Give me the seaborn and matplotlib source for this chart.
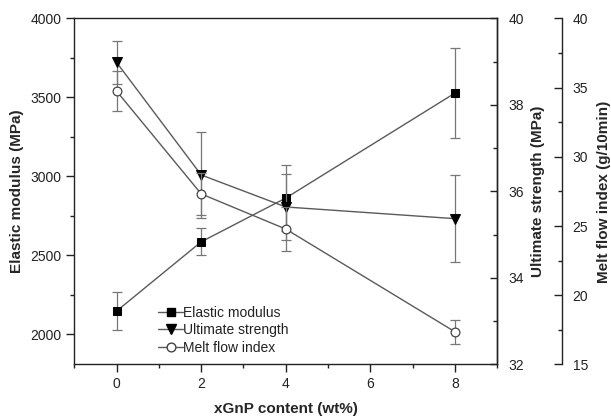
import matplotlib
matplotlib.use("Agg")
import matplotlib.pyplot as plt
import seaborn as sns
import pandas as pd
from matplotlib.ticker import MultipleLocator
from matplotlib.lines import Line2D

# ---- data ----
xgnp = [0, 2, 4, 8]
modulus = [2148, 2586, 2863, 3527]
modulus_err = [118, 85, 207, 282]
strength = [38.98, 36.38, 35.64, 35.37]
strength_err = [0.5, 1.0, 0.77, 1.0]
mfi = [34.74, 27.32, 24.78, 17.36]
mfi_err = [1.42, 1.5, 1.6, 0.86]
x_ticks = [0, 2, 4, 6, 8]

sns.set_style("ticks")
plt.rcParams["font.family"] = ["Liberation Sans", "DejaVu Sans"]
plt.rcParams["axes.linewidth"] = 1.0
plt.rcParams["text.color"] = "#222222"
plt.rcParams["xtick.color"] = "#222222"
plt.rcParams["ytick.color"] = "#222222"

df = pd.DataFrame({"x": xgnp, "mod": modulus, "str": strength, "mfi": mfi})

fig = plt.figure(figsize=(6.11, 4.16), dpi=100)
ax = fig.add_axes([0.1216, 0.1238, 0.8139 - 0.1216, 0.956 - 0.1238])
ax2 = ax.twinx()
ax3 = ax.twinx()

line_c = "#5a5a5a"
err_c = "#777777"
tfs = 10
lfs = 11

# error bars
for a, y, e in ((ax, modulus, modulus_err), (ax2, strength, strength_err), (ax3, mfi, mfi_err)):
    a.errorbar(xgnp, y, yerr=e, fmt="none", ecolor=err_c, elinewidth=0.9,
               capsize=3.5, capthick=0.9, zorder=2)

sns.lineplot(data=df, x="x", y="mod", ax=ax, color=line_c, lw=1.0, marker="s", markersize=5.5,
             markerfacecolor="black", markeredgecolor="black", zorder=3)
sns.lineplot(data=df, x="x", y="str", ax=ax2, color=line_c, lw=1.0, marker="v", markersize=7,
             markerfacecolor="black", markeredgecolor="black", zorder=3)
sns.lineplot(data=df, x="x", y="mfi", ax=ax3, color=line_c, lw=1.0, marker="o", markersize=6.3,
             markerfacecolor="white", markeredgecolor="#444444", markeredgewidth=0.9, zorder=3)

# left axis
ax.set_xlim(-1, 9)
ax.set_ylim(1810, 4000)
ax.set_xticks(x_ticks)
ax.xaxis.set_minor_locator(MultipleLocator(1))
ax.set_yticks([2000, 2500, 3000, 3500, 4000])
ax.yaxis.set_minor_locator(MultipleLocator(250))
ax.tick_params(axis="both", which="major", direction="out", length=6, width=1, labelsize=tfs, pad=3)
ax.tick_params(axis="both", which="minor", direction="out", length=3, width=1)
ax.set_xlabel("xGnP content (wt%)", fontsize=lfs, fontweight="bold", labelpad=8)
ax.set_ylabel("Elastic modulus (MPa)", fontsize=lfs, fontweight="bold", labelpad=5)
for s in ["top", "right", "left", "bottom"]:
    ax.spines[s].set_visible(True)
    ax.spines[s].set_color("#222222")

# strength axis
ax2.set_ylim(32, 40)
ax2.yaxis.set_major_locator(MultipleLocator(2))
ax2.yaxis.set_minor_locator(MultipleLocator(1))
ax2.tick_params(axis="y", which="major", direction="in", length=5, width=1, labelsize=tfs, pad=8)
ax2.tick_params(axis="y", which="minor", direction="in", length=3, width=1)
ax2.set_ylabel("Ultimate strength (MPa)", fontsize=lfs, fontweight="bold", labelpad=5)
for s in ["top", "left", "bottom"]:
    ax2.spines[s].set_visible(False)
ax2.spines["right"].set_visible(True)
ax2.spines["right"].set_color("#222222")

# melt flow axis
ax3.spines["right"].set_position(("axes", 1.152))
ax3.set_ylim(15, 40)
ax3.yaxis.set_major_locator(MultipleLocator(5))
ax3.yaxis.set_minor_locator(MultipleLocator(2.5))
ax3.tick_params(axis="y", which="major", direction="in", length=6, width=1, labelsize=tfs, pad=8)
ax3.tick_params(axis="y", which="minor", direction="in", length=3, width=1)
ax3.set_ylabel("Melt flow index (g/10min)", fontsize=lfs, fontweight="bold", labelpad=6)
for s in ["top", "left", "bottom"]:
    ax3.spines[s].set_visible(False)
ax3.spines["right"].set_visible(True)
ax3.spines["right"].set_color("#222222")

for a in (ax, ax2, ax3):
    if a.get_legend() is not None:
        a.get_legend().remove()

handles = [
    Line2D([], [], color=line_c, lw=1.0, marker="s", markersize=5.5, markerfacecolor="black", markeredgecolor="black"),
    Line2D([], [], color=line_c, lw=1.0, marker="v", markersize=7, markerfacecolor="black", markeredgecolor="black"),
    Line2D([], [], color=line_c, lw=1.0, marker="o", markersize=6.3, markerfacecolor="white", markeredgecolor="#444444"),
]
labels = ["Elastic modulus", "Ultimate strength", "Melt flow index"]
ax.legend(handles, labels, loc="lower left", bbox_to_anchor=(0.175, 0.0), frameon=False,
          fontsize=tfs, handlelength=1.8, handletextpad=0.0, labelspacing=0.25, borderaxespad=0.3)

fig.savefig("out.png", dpi=100)
